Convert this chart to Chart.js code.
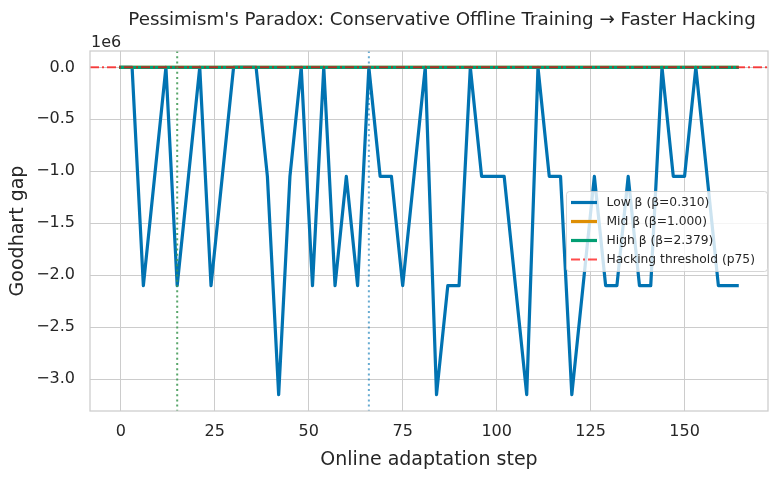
<!DOCTYPE html>
<html>
<head>
<meta charset="utf-8">
<script src="https://cdn.jsdelivr.net/npm/chart.js@4.4.1/dist/chart.umd.min.js"></script>
<style>
  html, body { margin: 0; padding: 0; background: #fff; }
  canvas { display: block; }
</style>
</head>
<body>
<canvas id="myChart" width="778" height="478"></canvas>
<script>
// online adaptation steps (x)
const steps = [0, 3, 6, 9, 12, 15, 18, 21, 24, 27, 30, 33, 36, 39, 42, 45, 48, 51, 54, 57,
  60, 63, 66, 69, 72, 75, 78, 81, 84, 87, 90, 93, 96, 99, 102, 105, 108, 111, 114, 117,
  120, 123, 126, 129, 132, 135, 138, 141, 144, 147, 150, 153, 156, 159, 162, 164];

// goodhart gap per beta level
const lowBeta = [0, 0, -2.1e6, -1.05e6, 0, -2.1e6, -1.05e6, 0, -2.1e6, -1.05e6,
  0, 0, 0, -1.05e6, -3.15e6, -1.05e6, 0, -2.1e6, 0, -2.1e6,
  -1.05e6, -2.1e6, 0, -1.05e6, -1.05e6, -2.1e6, -1.05e6, 0, -3.15e6, -2.1e6,
  -2.1e6, 0, -1.05e6, -1.05e6, -1.05e6, -2.1e6, -3.15e6, 0, -1.05e6, -1.05e6,
  -3.15e6, -2.1e6, -1.05e6, -2.1e6, -2.1e6, -1.05e6, -2.1e6, -2.1e6, 0, -1.05e6,
  -1.05e6, 0, -1.05e6, -2.1e6, -2.1e6, -2.1e6];
const midBeta = [0, 0, 0, 0, 0, 0, 0, 0, 0, 0, 0, 0, 0, 0, 0, 0, 0, 0, 0, 0,
  0, 0, 0, 0, 0, 0, 0, 0, 0, 0, 0, 0, 0, 0, 0, 0, 0, 0, 0, 0,
  0, 0, 0, 0, 0, 0, 0, 0, 0, 0, 0, 0, 0, 0, 0, 0];
const highBeta = [0, 0, 0, 0, 0, 0, 0, 0, 0, 0, 0, 0, 0, 0, 0, 0, 0, 0, 0, 0,
  0, 0, 0, 0, 0, 0, 0, 0, 0, 0, 0, 0, 0, 0, 0, 0, 0, 0, 0, 0,
  0, 0, 0, 0, 0, 0, 0, 0, 0, 0, 0, 0, 0, 0, 0, 0];

const seriesLabels = ["Low β (β=0.310)", "Mid β (β=1.000)", "High β (β=2.379)"];
const seriesColors = ["#0173B2", "#DE8F05", "#029E73"];
const thresholdLabel = "Hacking threshold (p75)";
const threshold = 0;
const titleText = "Pessimism's Paradox: Conservative Offline Training → Faster Hacking";

// hacking onset markers (high beta, low beta)
const onsetSteps = [15, 66];
const onsetColors = ["rgba(60,150,80,0.85)", "rgba(1,115,178,0.6)"];

const xTicks = [0, 25, 50, 75, 100, 125, 150];
const yTicks = [0, -0.5e6, -1e6, -1.5e6, -2e6, -2.5e6, -3e6];

const textColor = "#262626";
const gridColor = "#cccccc";
const fontFamily = "'DejaVu Sans', sans-serif";

const toPoints = (vals) => vals.map((v, i) => ({ x: steps[i], y: v }));

const extras = {
  id: "extras",
  afterDatasetsDraw(chart) {
    const { ctx, chartArea: a, scales } = chart;
    ctx.save();
    ctx.beginPath();
    ctx.rect(a.left, a.top, a.right - a.left, a.bottom - a.top);
    ctx.clip();
    // threshold line
    const ty = scales.y.getPixelForValue(threshold);
    ctx.strokeStyle = "rgba(255,0,0,0.7)";
    ctx.lineWidth = 2;
    ctx.setLineDash([9, 3, 2, 3]);
    ctx.beginPath();
    ctx.moveTo(a.left, ty);
    ctx.lineTo(a.right, ty);
    ctx.stroke();
    // onset markers
    ctx.lineWidth = 2;
    ctx.setLineDash([2, 3.2]);
    onsetSteps.forEach((s, i) => {
      const px = scales.x.getPixelForValue(s);
      ctx.strokeStyle = onsetColors[i];
      ctx.beginPath();
      ctx.moveTo(px, a.top);
      ctx.lineTo(px, a.bottom);
      ctx.stroke();
    });
    ctx.restore();
  },
  afterDraw(chart) {
    const { ctx, chartArea: a } = chart;
    ctx.save();
    // frame
    ctx.strokeStyle = gridColor;
    ctx.lineWidth = 1.25;
    ctx.strokeRect(a.left, a.top, a.right - a.left, a.bottom - a.top);

    // title
    ctx.fillStyle = textColor;
    ctx.font = "18.3px " + fontFamily;
    ctx.textAlign = "center";
    ctx.textBaseline = "alphabetic";
    ctx.fillText(titleText, 442, 25);

    // offset text
    ctx.font = "16px " + fontFamily;
    ctx.textAlign = "left";
    ctx.fillText("1e6", a.left + 1, a.top - 4);

    // legend
    const bx = 566.5, by = 191.5, bw = 201, bh = 80, r = 3;
    ctx.fillStyle = "rgba(255,255,255,0.8)";
    ctx.strokeStyle = "rgba(204,204,204,0.8)";
    ctx.lineWidth = 1;
    ctx.beginPath();
    ctx.roundRect(bx, by, bw, bh, r);
    ctx.fill();
    ctx.stroke();

    ctx.font = "12.3px " + fontFamily;
    ctx.textBaseline = "middle";
    const rows = [202.5, 221.5, 240.5, 259.5];
    seriesLabels.concat([thresholdLabel]).forEach((lab, i) => {
      const y = rows[i];
      ctx.beginPath();
      if (i < 3) {
        ctx.strokeStyle = seriesColors[i];
        ctx.lineWidth = 3.2;
        ctx.setLineDash([]);
      } else {
        ctx.strokeStyle = "rgba(255,0,0,0.7)";
        ctx.lineWidth = 2;
        ctx.setLineDash([9, 3, 2, 3]);
      }
      ctx.moveTo(571, y);
      ctx.lineTo(597, y);
      ctx.stroke();
      ctx.setLineDash([]);
      ctx.fillStyle = textColor;
      ctx.fillText(lab, 606.5, y + 0.5);
    });
    ctx.restore();
  }
};

new Chart(document.getElementById("myChart"), {
  type: "line",
  data: {
    datasets: [
      { label: seriesLabels[0], data: toPoints(lowBeta), borderColor: seriesColors[0], order: 3 },
      { label: seriesLabels[1], data: toPoints(midBeta), borderColor: seriesColors[1], order: 2 },
      { label: seriesLabels[2], data: toPoints(highBeta), borderColor: seriesColors[2], order: 1 }
    ]
  },
  options: {
    responsive: false,
    animation: false,
    devicePixelRatio: 1,
    layout: { padding: { top: 51, right: 10, bottom: 0, left: 0 } },
    elements: {
      point: { radius: 0 },
      line: { borderWidth: 3.2, tension: 0, borderJoinStyle: "round", borderCapStyle: "square", fill: false }
    },
    plugins: {
      legend: { display: false },
      tooltip: { enabled: false },
      title: { display: false }
    },
    scales: {
      x: {
        type: "linear",
        min: -8.2,
        max: 172.2,
        afterBuildTicks: (s) => { s.ticks = xTicks.map((v) => ({ value: v })); },
        afterFit: (s) => { s.height = 67; },
        grid: { color: gridColor, lineWidth: 1, drawTicks: false },
        border: { display: false },
        ticks: { color: textColor, font: { family: fontFamily, size: 16 }, padding: 11, maxRotation: 0 },
        title: { display: true, text: "Online adaptation step", color: textColor,
          font: { family: fontFamily, size: 19 }, padding: { top: 0, bottom: 7 } }
      },
      y: {
        type: "linear",
        min: -3.3075e6,
        max: 0.1575e6,
        afterBuildTicks: (s) => { s.ticks = yTicks.map((v) => ({ value: v })); },
        afterFit: (s) => { s.width = 90; },
        grid: { color: gridColor, lineWidth: 1, drawTicks: false },
        border: { display: false },
        ticks: {
          color: textColor, font: { family: fontFamily, size: 16 }, padding: 15,
          callback: (v) => (v / 1e6).toFixed(1).replace("-", "\u2212")
        },
        title: { display: true, text: "Goodhart gap", color: textColor,
          font: { family: fontFamily, size: 19 }, padding: { top: 7, bottom: 0 } }
      }
    }
  },
  plugins: [extras]
});
</script>
</body>
</html>
